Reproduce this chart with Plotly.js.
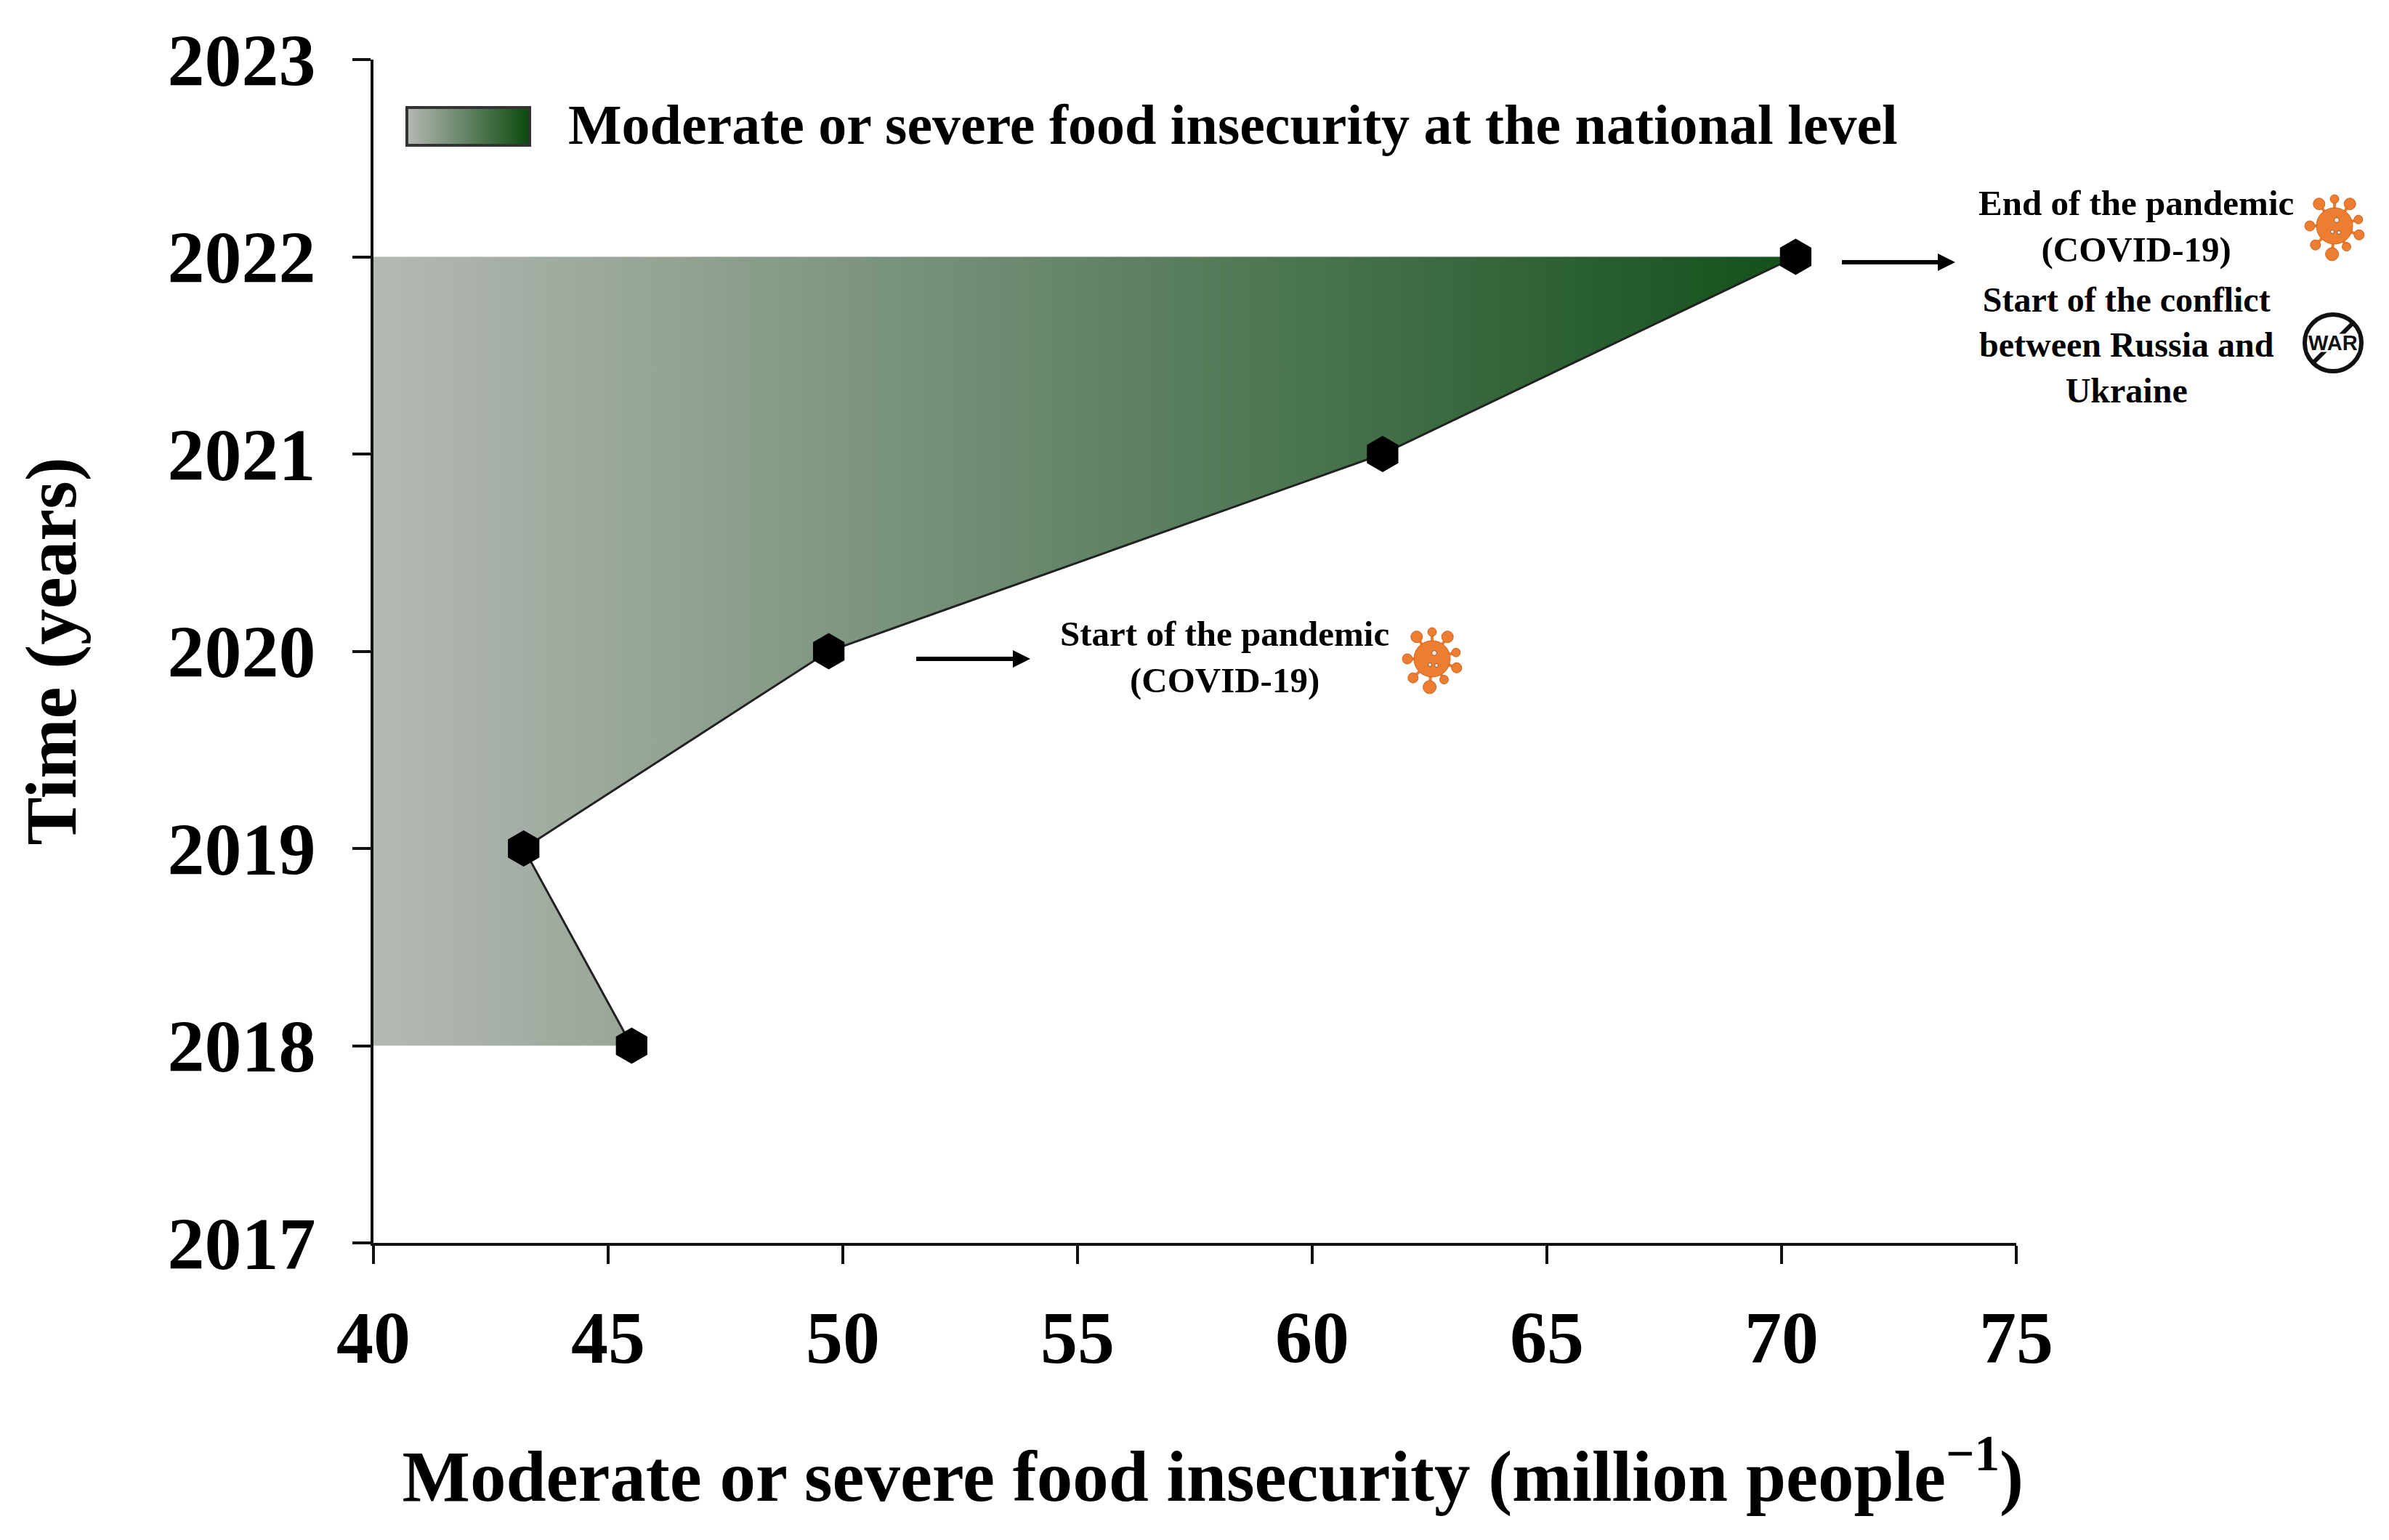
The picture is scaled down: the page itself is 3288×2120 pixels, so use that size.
<!DOCTYPE html>
<html><head><meta charset="utf-8">
<script src="https://cdn.plot.ly/plotly-3.0.1.min.js"></script>
<style>html,body{margin:0;padding:0;background:#fff}</style>
</head><body><div id="chart" style="width:3288px;height:2120px"></div>
<script>
const years = [2018, 2019, 2020, 2021, 2022];
const insecurity = [45.5, 43.2, 49.7, 61.5, 70.3];
const xTicks = [40, 45, 50, 55, 60, 65, 70, 75];
const yTicks = [2017, 2018, 2019, 2020, 2021, 2022, 2023];
const seriesName = 'Moderate or severe food insecurity at the national level';
const xTitle = '&nbsp;&nbsp;Moderate or severe food insecurity (million people<sup>\u22121</sup>)';
const yTitle = 'Time (years)';

const W = 3288, H = 2120, L = 514, R = 2775, T = 82, B = 1711;
const SERIF = '"Liberation Serif", serif';
const GRADIENT = [[0, '#b5b9b4'], [1, '#12501a']];
const px = x => (x - L) / (R - L);
const py = y => (B - y) / (B - T);
const base = {xref:'paper', yref:'paper'};

function virusShapes(cx, cy) {
  const o = '#ED7D31', dk = '#C9651F', out = [];
  const spikes = [[-125,37,8],[-90,37,6],[-55,37,8],[-15,34,6],[20,36,7],[60,33,6],[95,39,9],[135,37,7],[180,34,7]];
  const circ = (x, y, r, fill, line) => Object.assign({type:'circle',
    x0:px(x-r), x1:px(x+r), y0:py(y+r), y1:py(y-r), fillcolor:fill, line:{color:line||fill, width:line?1:0}}, base);
  spikes.forEach(([a, d, r]) => {
    const t = a * Math.PI / 180, x = cx + d * Math.cos(t), y = cy + d * Math.sin(t);
    out.push(Object.assign({type:'line', x0:px(cx), y0:py(cy), x1:px(x), y1:py(y), line:{color:o, width:4}}, base));
    out.push(circ(x, y, r, o, dk));
  });
  out.push(circ(cx, cy, 25, o, dk));
  [[3,-8,3.5],[-3,8,2.5],[6,9,2.5]].forEach(([dx, dy, r]) => out.push(circ(cx+dx, cy+dy, r, '#f6e3d6', '#8a5a38')));
  return out;
}
function warShapes(cx, cy) {
  const r = 39;
  return [
    Object.assign({type:'circle', x0:px(cx-r), x1:px(cx+r), y0:py(cy+r), y1:py(cy-r), line:{color:'#111', width:6}, fillcolor:'#fff'}, base),
    Object.assign({type:'line', x0:px(cx-28), y0:py(cy+28), x1:px(cx+28), y1:py(cy-28), line:{color:'#111', width:6}}, base)
  ];
}
function arrowShapes(x0, x1, y) {
  const head = 24, half = 12;
  const pt = (a, b) => px(a) + ',' + py(b);
  return [
    Object.assign({type:'line', x0:px(x0), y0:py(y), x1:px(x1-head+2), y1:py(y), line:{color:'#000', width:6}}, base),
    Object.assign({type:'path', path:'M' + pt(x1, y) + ' L' + pt(x1-head, y-half) + ' L' + pt(x1-head, y+half) + ' Z',
      fillcolor:'#000', line:{color:'#000', width:0}}, base)
  ];
}
const swatch = 'data:image/svg+xml;utf8,' + encodeURIComponent(
  '<svg xmlns="http://www.w3.org/2000/svg" width="173" height="56" viewBox="0 0 173 56"><defs><linearGradient id="g"><stop offset="0" stop-color="#b5b9b4"/><stop offset="1" stop-color="#0c4a0e"/></linearGradient></defs><rect x="2" y="2" width="169" height="52" fill="url(#g)" stroke="#333" stroke-width="4"/></svg>');

const note = (text, x, y, size, anchor) => ({xref:'paper', yref:'paper', x:px(x), y:py(y), text, showarrow:false,
  xanchor:anchor||'center', yanchor:'middle', align:'center', font:{family:SERIF, size:size, color:'#000'}});

const trace = {
  x: insecurity, y: years, type:'scatter', mode:'lines+markers', name: seriesName,
  fill:'tozerox', fillcolor:'rgba(0,0,0,0)',
  fillgradient:{type:'horizontal', colorscale:GRADIENT, start:40, stop:70.3},
  line:{color:'#222', width:3},
  marker:{symbol:'hexagon', size:50, color:'#000', line:{color:'#000', width:0}},
  cliponaxis:false, showlegend:false
};
const axisFont = {family:SERIF, size:102, color:'#000', weight:700};
const titleFont = {family:SERIF, size:99, weight:700, color:'#000'};
const layout = {
  width:W, height:H, paper_bgcolor:'#fff', plot_bgcolor:'#fff', showlegend:false,
  margin:{l:L, r:W-R, t:T, b:H-B, pad:0},
  font:{family:SERIF, color:'#000'},
  xaxis:{range:[40,75], tickvals:xTicks, ticks:'outside', ticklen:25, tickwidth:4, tickcolor:'#111',
    showline:true, linewidth:4, linecolor:'#111', showgrid:false, zeroline:false, ticklabelstandoff:14,
    tickfont:axisFont, title:{text:xTitle, standoff:100, font:titleFont}},
  yaxis:{range:[2017,2023], tickvals:yTicks, ticks:'outside', ticklen:25, tickwidth:4, tickcolor:'#111',
    showline:true, linewidth:4, linecolor:'#111', showgrid:false, zeroline:false, ticklabelstandoff:30,
    tickformat:'d', tickfont:axisFont, title:{text:yTitle, standoff:94, font:titleFont}},
  images:[{source:swatch, xref:'paper', yref:'paper', x:px(558), y:py(146), sizex:173/(R-L), sizey:56/(B-T),
    xanchor:'left', yanchor:'top', sizing:'stretch', layer:'above'}],
  shapes:[].concat(arrowShapes(1261,1418,907), arrowShapes(2535,2691,361),
    virusShapes(3213,311), virusShapes(1971,907), warShapes(3211,472)),
  annotations:[
    note('<b>'+seriesName+'</b>', 780, 172, 78, 'left'),
    note('<b>Start of the pandemic<br>(COVID-19)</b>', 1685, 905, 49),
    note('<b>End of the pandemic<br>(COVID-19)</b>', 2940, 311, 49),
    note('<b>Start of the conflict<br>between Russia and<br>Ukraine</b>', 2927, 475, 48),
    {xref:'paper', yref:'paper', x:px(3211), y:py(472), text:'<b>WAR</b>', showarrow:false, xanchor:'center', yanchor:'middle',
      bgcolor:'#fff', borderpad:0, height:24, font:{family:'"Liberation Sans", sans-serif', size:29, color:'#111'}}
  ]
};
Plotly.newPlot('chart', [trace], layout, {staticPlot:true, displayModeBar:false});
</script></body></html>
